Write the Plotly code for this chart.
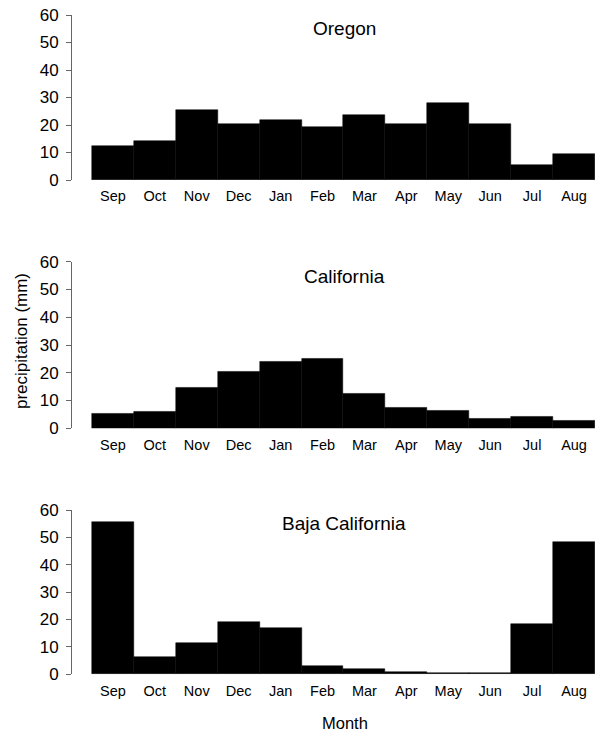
import plotly.graph_objects as go

months = ["Sep", "Oct", "Nov", "Dec", "Jan", "Feb", "Mar", "Apr", "May", "Jun", "Jul", "Aug"]
oregon = [12.5, 14.3, 25.5, 20.5, 21.7, 19.3, 23.6, 20.5, 28.0, 20.5, 5.6, 9.3]
california = [5.1, 6.0, 14.7, 20.5, 24.1, 25.2, 12.3, 7.3, 6.5, 3.5, 4.1, 2.7]
baja = [55.5, 6.2, 11.3, 19.0, 17.0, 3.0, 2.1, 0.7, 0.3, 0.6, 18.3, 48.3]
panel_titles = ["Oregon", "California", "Baja California"]
series = [oregon, california, baja]

W, H = 595, 736
FONT = "Liberation Sans, Arial, Helvetica, sans-serif"

# pixel positions (from top) of y=0 and y=60 for each panel
panels_px = [(180.0, 15.0), (428.3, 261.7), (674.3, 510.0)]
title_px = [28, 277, 523]
axis_x_px = 72

fig = go.Figure()
x_idx = list(range(len(months)))
layout_axes = {}
for i, (vals, (p0, p60)) in enumerate(zip(series, panels_px)):
    n = "" if i == 0 else str(i + 1)
    fig.add_trace(go.Bar(
        x=x_idx, y=vals, width=1.0,
        marker=dict(color="black", line=dict(color="black", width=0.5)),
        xaxis="x" + n, yaxis="y" + n, showlegend=False,
    ))
    layout_axes["xaxis" + n] = dict(
        domain=[axis_x_px / W, 1.0],
        range=[-0.976, 11.5],
        tickmode="array", tickvals=x_idx, ticktext=months,
        showline=False, showgrid=False, zeroline=False,
        ticks="outside", ticklen=3, tickcolor="rgba(0,0,0,0)",
        tickfont=dict(family=FONT, size=14.5, color="black"),
        anchor="y" + n, fixedrange=True, automargin=False,
    )
    layout_axes["yaxis" + n] = dict(
        domain=[1 - p0 / H, 1 - p60 / H],
        range=[0, 60],
        tickvals=[0, 10, 20, 30, 40, 50, 60],
        showline=True, linecolor="#666", linewidth=1,
        showgrid=False, zeroline=False,
        ticks="outside", ticklen=5, tickcolor="#666", tickwidth=1,
        ticklabelstandoff=4,
        tickfont=dict(family=FONT, size=17, color="black"),
        anchor="x" + n, fixedrange=True, automargin=False,
    )

annotations = []
for t, ty in zip(panel_titles, title_px):
    annotations.append(dict(
        text=t, x=344 / W, y=1 - ty / H, xref="paper", yref="paper",
        showarrow=False, xanchor="center", yanchor="middle",
        font=dict(family=FONT, size=19, color="black"),
    ))
annotations.append(dict(
    text="Month", x=345 / W, y=1 - 723 / H, xref="paper", yref="paper",
    showarrow=False, xanchor="center", yanchor="middle",
    font=dict(family=FONT, size=16.5, color="black"),
))
annotations.append(dict(
    text="precipitation (mm)", x=21 / W, y=1 - 341 / H, xref="paper", yref="paper",
    showarrow=False, xanchor="center", yanchor="middle", textangle=-90,
    font=dict(family=FONT, size=17, color="black"),
))

fig.update_layout(
    template="none",
    width=W, height=H,
    margin=dict(l=0, r=0, t=0, b=0, pad=0, autoexpand=False),
    paper_bgcolor="white", plot_bgcolor="white",
    bargap=0,
    annotations=annotations,
    **layout_axes,
)

fig.write_html(
    "out.html",
    config={"displayModeBar": False},
    post_script="document.body.style.margin='0';document.body.style.overflow='hidden';",
)
